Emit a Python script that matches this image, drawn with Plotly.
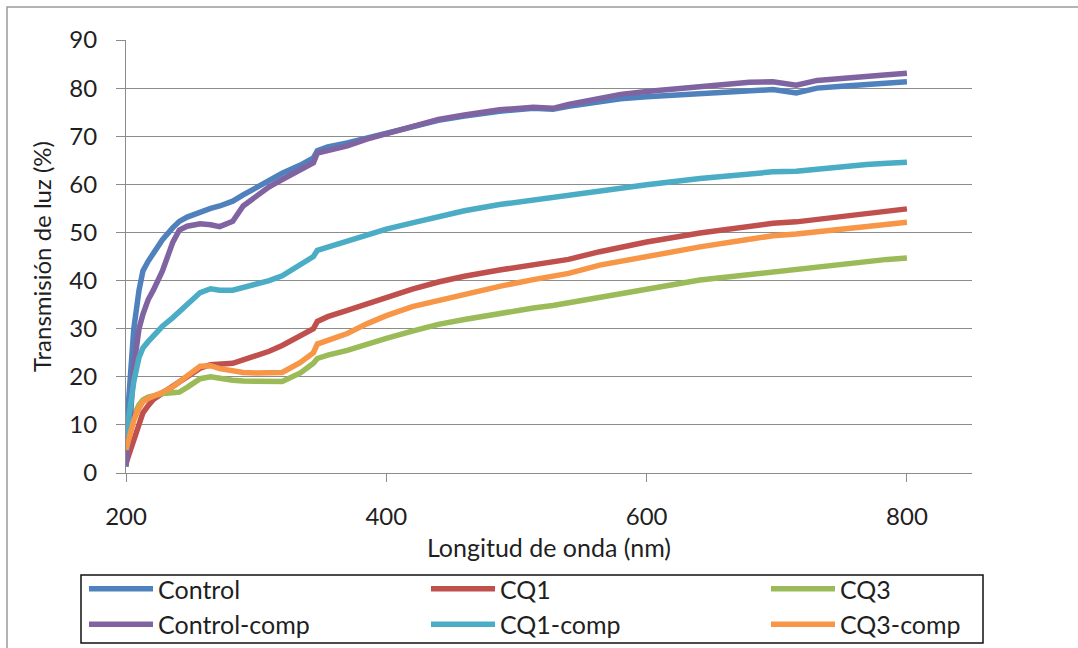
import plotly.graph_objects as go

# Wavelength grid (nm) shared by all series
wavelength = [200, 203, 206, 210, 213, 217, 221, 228, 236, 241, 247, 257, 265, 272,
              282, 290, 300, 310, 320, 334, 344, 347, 355, 370, 385, 400, 420, 440,
              460, 487, 513, 528, 540, 564, 580, 600, 641, 679, 697, 715, 731, 750,
              769, 785, 800]

# Light transmission (%) per sample
control = [7.5, 20, 30, 38, 42, 44, 45.7, 48.5, 51, 52.3, 53.2, 54.3, 55, 55.5,
           56.5, 57.8, 59.3, 61, 62.3, 64, 65.5, 67, 67.8, 68.6, 69.6, 70.6, 72, 73.3,
           74.2, 75.2, 75.8, 75.6, 76.2, 77.2, 77.8, 78.2, 78.8, 79.6, 79.7, 79, 80, 80.4,
           80.8, 81.1, 81.3]
control_comp = [1.3, 10, 22, 30, 33, 36, 38, 42, 48, 50.5, 51.3, 51.8, 51.6, 51.2,
                52.3, 55.5, 57.5, 59.5, 61, 63, 64.5, 66.5, 67, 68, 69.4, 70.6, 72, 73.5,
                74.4, 75.5, 76, 75.8, 76.6, 78, 78.7, 79.3, 80.2, 81.2, 81.3, 80.6, 81.6, 82.1,
                82.5, 82.8, 83.1]
cq1 = [2, 4.5, 7, 10.5, 12.5, 14, 15.3, 16.6, 18, 18.8, 20, 21.8, 22.5, 22.6,
       22.8, 23.5, 24.3, 25.3, 26.5, 28.4, 30, 31.5, 32.5, 33.8, 35.2, 36.6, 38.2, 39.7,
       40.9, 42.2, 43.3, 43.8, 44.4, 46, 47, 48, 49.9, 51.2, 51.9, 52.2, 52.7, 53.5,
       54.1, 54.5, 54.9]
cq1_comp = [7.5, 13, 19, 24, 26, 27.3, 28.5, 30.5, 32.3, 33.6, 35, 37.5, 38.3, 38,
            38, 38.5, 39.3, 40, 41, 43.3, 45, 46.3, 47, 48.3, 49.6, 50.7, 52, 53.3,
            54.5, 55.8, 56.8, 57.3, 57.8, 58.6, 59.2, 59.9, 61.2, 62.3, 62.6, 62.7, 63.2, 63.7,
            64.1, 64.4, 64.6]
cq3 = [6, 9, 12, 14.2, 15.2, 15.8, 16.1, 16.5, 16.7, 16.8, 17.8, 19.6, 20, 19.6,
       19.3, 19.1, 19, 18.9, 19, 20.8, 22.8, 23.8, 24.5, 25.5, 26.8, 28, 29.5, 30.9,
       31.9, 33.2, 34.3, 34.8, 35.4, 36.6, 37.4, 38.2, 40.1, 41.3, 41.8, 42.4, 42.8, 43.5,
       44, 44.4, 44.7]
cq3_comp = [4.8, 8, 11, 13.5, 14.8, 15.5, 15.9, 16.8, 17.9, 18.8, 20.2, 22.2, 22.3, 21.7,
            21.1, 20.9, 20.8, 20.8, 20.9, 23, 25, 26.8, 27.6, 29, 31, 32.7, 34.6, 35.9,
            37.2, 38.8, 40.2, 40.8, 41.5, 43.2, 44, 45, 47, 48.6, 49.3, 49.7, 50.2, 50.8,
            51.4, 51.8, 52.1]

x_ticks = [200, 400, 600, 800]
y_ticks = [0, 10, 20, 30, 40, 50, 60, 70, 80, 90]

series = [
    ("Control", control, "#4F81BD", "legend"),
    ("CQ1", cq1, "#C0504D", "legend2"),
    ("CQ3", cq3, "#9BBB59", "legend3"),
    ("Control-comp", control_comp, "#8064A2", "legend"),
    ("CQ1-comp", cq1_comp, "#4BACC6", "legend2"),
    ("CQ3-comp", cq3_comp, "#F79646", "legend3"),
]

FONT = "Lato"
GRID = "#8c8c8c"
TEXT = "#1f1f1f"

fig = go.Figure()
for name, values, color, leg in series:
    fig.add_trace(go.Scatter(
        x=wavelength, y=values, name=name, mode="lines",
        line=dict(color=color, width=5.5),
        legend=leg,
    ))

W, H = 1078, 648
L, R, T, B = 126, 106, 40, 175
pw, ph = W - L - R, H - T - B


def px(xp):
    return (xp - L) / pw


def py(yp):
    return (H - B - yp) / ph


legend_common = dict(
    bgcolor="rgba(0,0,0,0)", borderwidth=0,
    font=dict(family=FONT, size=25, color=TEXT),
    orientation="v", yanchor="top", xanchor="left", itemwidth=64,
    itemclick=False, itemdoubleclick=False, tracegroupgap=0,
)

fig.update_layout(
    width=W, height=H,
    margin=dict(l=L, r=R, t=T, b=B, autoexpand=False),
    paper_bgcolor="white", plot_bgcolor="white",
    font=dict(family=FONT, color=TEXT),
    legend=dict(x=px(84), y=py(566), **legend_common),
    legend2=dict(x=px(426), y=py(566), **legend_common),
    legend3=dict(x=px(766), y=py(566), **legend_common),
    xaxis=dict(
        range=[200, 850], tickvals=x_ticks, ticks="outside", ticklen=8,
        tickcolor=GRID, showline=True, linecolor=GRID, linewidth=1,
        showgrid=False, zeroline=False,
        tickfont=dict(family=FONT, size=24, color=TEXT),
        ticklabelstandoff=14,
        title=dict(text="Longitud de onda (nm)", standoff=10,
                   font=dict(family=FONT, size=25, color=TEXT)),
    ),
    yaxis=dict(
        range=[0, 90], tickvals=y_ticks, ticks="outside", ticklen=9,
        tickcolor=GRID, showline=True, linecolor=GRID, linewidth=1,
        showgrid=True, gridcolor=GRID, gridwidth=1, zeroline=False,
        tickfont=dict(family=FONT, size=24, color=TEXT),
        ticklabelstandoff=14,
        title=dict(text="Transmisión de luz (%)", standoff=10,
                   font=dict(family=FONT, size=24, color=TEXT)),
    ),
    shapes=[
        # outer chart frame
        dict(type="rect", xref="paper", yref="paper",
             x0=px(7), x1=px(1090), y0=py(660), y1=py(7),
             line=dict(color="#9a9a9a", width=1.5), layer="below"),
        # legend frame
        dict(type="rect", xref="paper", yref="paper",
             x0=px(81), x1=px(983), y0=py(643), y1=py(575),
             line=dict(color="#111111", width=1.5), layer="above"),
    ],
)

fig.write_html("out.html")
